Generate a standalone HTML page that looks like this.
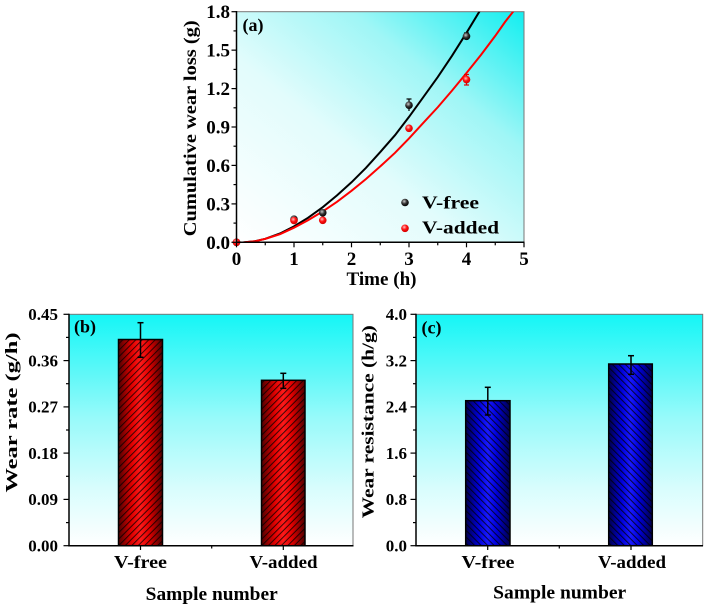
<!DOCTYPE html>
<html><head><meta charset="utf-8"><style>
html,body{margin:0;padding:0;background:#fff;}
svg{display:block;}
text{font-family:"Liberation Serif","Times New Roman",serif;font-weight:bold;fill:#000;}
</style></head><body>
<svg width="708" height="609" viewBox="0 0 708 609" xmlns="http://www.w3.org/2000/svg">
<defs>
<linearGradient id="bgA" x1="0" y1="1" x2="1" y2="0">
<stop offset="0" stop-color="#ffffff"/>
<stop offset="0.4" stop-color="#e2fcfc"/>
<stop offset="0.7" stop-color="#9ff6f6"/>
<stop offset="1" stop-color="#12eef0"/>
</linearGradient>
<linearGradient id="bgB" x1="0" y1="0" x2="0" y2="1">
<stop offset="0" stop-color="#14f6f6"/>
<stop offset="0.45" stop-color="#98fafa"/>
<stop offset="0.75" stop-color="#d8fdfd"/>
<stop offset="1" stop-color="#ffffff"/>
</linearGradient>
<linearGradient id="redG" x1="0" y1="0" x2="1" y2="0">
<stop offset="0" stop-color="#500000"/>
<stop offset="0.3" stop-color="#e00000"/>
<stop offset="0.5" stop-color="#ff1a1a"/>
<stop offset="0.7" stop-color="#e00000"/>
<stop offset="1" stop-color="#500000"/>
</linearGradient>
<linearGradient id="blueG" x1="0" y1="0" x2="1" y2="0">
<stop offset="0" stop-color="#00004a"/>
<stop offset="0.3" stop-color="#0000d8"/>
<stop offset="0.5" stop-color="#1a1aff"/>
<stop offset="0.7" stop-color="#0000d8"/>
<stop offset="1" stop-color="#00004a"/>
</linearGradient>
<pattern id="hatchR" width="4.6" height="10" patternUnits="userSpaceOnUse" patternTransform="rotate(45)">
<line x1="0.5" y1="0" x2="0.5" y2="10" stroke="#000" stroke-width="1" stroke-opacity="0.75"/>
</pattern>
<pattern id="hatchB" width="4.6" height="10" patternUnits="userSpaceOnUse" patternTransform="rotate(-45)">
<line x1="0.5" y1="0" x2="0.5" y2="10" stroke="#000" stroke-width="1" stroke-opacity="0.75"/>
</pattern>
<radialGradient id="dotK" cx="0.4" cy="0.35" r="0.65">
<stop offset="0" stop-color="#c8c8c8"/>
<stop offset="0.5" stop-color="#333"/>
<stop offset="1" stop-color="#000"/>
</radialGradient>
<radialGradient id="dotR" cx="0.4" cy="0.35" r="0.65">
<stop offset="0" stop-color="#ffc0c0"/>
<stop offset="0.5" stop-color="#ff1010"/>
<stop offset="1" stop-color="#d00000"/>
</radialGradient>
<clipPath id="clipA"><rect x="236.5" y="11.7" width="287.5" height="230.6"/></clipPath>
</defs>

<!-- ============ Panel (a) ============ -->
<rect x="236.5" y="11.7" width="287.5" height="230.6" fill="url(#bgA)" stroke="#777" stroke-width="1"/>
<g clip-path="url(#clipA)" fill="none" stroke-width="2">
<polyline stroke="#000" points="241,242.8 245.1,242.3 255,241.2 265.25,238.8 280,233.5 294,226.4 308,217.8 322.75,207.2 337,195.4 351.5,182.3 366,167.8 380.25,152.05 395,135.2 409,116.9 423,97.6 437.75,77.05 452,55.8 466.5,32.8 479.3,11.7 482,7"/>
<polyline stroke="#ff0000" points="241,242.8 245.1,242.3 255,241.3 265.25,238.85 280,234.2 294,227.7 308,220.2 322.75,211.4 337,201.8 351.5,190.8 366,179.0 380.25,166.4 395,152.8 409,138.4 423,123.2 437.75,107.25 452,90.6 466.5,73.0 481,54.9 495.25,35.9 505,22 513.1,11.7 516,7"/>
</g>
<!-- error bars on points -->
<g stroke="#000" stroke-width="1.2">
<line x1="409" y1="99" x2="409" y2="111"/><line x1="406.5" y1="99" x2="411.5" y2="99"/>
<line x1="466.5" y1="33" x2="466.5" y2="40"/><line x1="464" y1="33" x2="469" y2="33"/>
</g>
<g stroke="#e00000" stroke-width="1.2">
<line x1="466.5" y1="74.5" x2="466.5" y2="85"/><line x1="464" y1="74.5" x2="469" y2="74.5"/><line x1="464" y1="85" x2="469" y2="85"/>
<line x1="409" y1="124.5" x2="409" y2="132"/>
</g>
<!-- points -->
<g>
<circle cx="236.5" cy="242.3" r="3.8" fill="url(#dotK)"/>
<circle cx="294" cy="219.2" r="3.8" fill="url(#dotK)"/>
<circle cx="322.75" cy="212.8" r="3.8" fill="url(#dotK)"/>
<circle cx="409" cy="105.2" r="3.8" fill="url(#dotK)"/>
<circle cx="466.5" cy="36.3" r="3.8" fill="url(#dotK)"/>
<circle cx="236.5" cy="242.3" r="3.8" fill="url(#dotR)"/>
<circle cx="294" cy="220.5" r="3.8" fill="url(#dotR)"/>
<circle cx="322.75" cy="220.3" r="3.8" fill="url(#dotR)"/>
<circle cx="409" cy="128.3" r="3.8" fill="url(#dotR)"/>
<circle cx="466.5" cy="79.6" r="3.8" fill="url(#dotR)"/>
</g>
<!-- axes a -->
<g stroke="#000" stroke-width="1.5">
<line x1="236.5" y1="11" x2="236.5" y2="243"/>
<line x1="235.8" y1="242.3" x2="524.5" y2="242.3"/>
</g>
<g stroke="#000" stroke-width="1.2">
<line x1="231.5" y1="242.3" x2="236.5" y2="242.3"/><line x1="231.5" y1="203.9" x2="236.5" y2="203.9"/><line x1="231.5" y1="165.4" x2="236.5" y2="165.4"/><line x1="231.5" y1="127" x2="236.5" y2="127"/><line x1="231.5" y1="88.6" x2="236.5" y2="88.6"/><line x1="231.5" y1="50.15" x2="236.5" y2="50.15"/><line x1="231.5" y1="11.7" x2="236.5" y2="11.7"/>
<line x1="233.5" y1="223.1" x2="236.5" y2="223.1"/><line x1="233.5" y1="184.6" x2="236.5" y2="184.6"/><line x1="233.5" y1="146.2" x2="236.5" y2="146.2"/><line x1="233.5" y1="107.8" x2="236.5" y2="107.8"/><line x1="233.5" y1="69.4" x2="236.5" y2="69.4"/><line x1="233.5" y1="30.9" x2="236.5" y2="30.9"/>
<line x1="236.5" y1="242.3" x2="236.5" y2="247.3"/><line x1="294" y1="242.3" x2="294" y2="247.3"/><line x1="351.5" y1="242.3" x2="351.5" y2="247.3"/><line x1="409" y1="242.3" x2="409" y2="247.3"/><line x1="466.5" y1="242.3" x2="466.5" y2="247.3"/><line x1="524" y1="242.3" x2="524" y2="247.3"/>
<line x1="265.25" y1="242.3" x2="265.25" y2="245.3"/><line x1="322.75" y1="242.3" x2="322.75" y2="245.3"/><line x1="380.25" y1="242.3" x2="380.25" y2="245.3"/><line x1="437.75" y1="242.3" x2="437.75" y2="245.3"/><line x1="495.25" y1="242.3" x2="495.25" y2="245.3"/>
</g>
<g font-size="19" text-anchor="end">
<text x="230" y="248.8">0.0</text>
<text x="230" y="210.4">0.3</text>
<text x="230" y="171.9">0.6</text>
<text x="230" y="133.5">0.9</text>
<text x="230" y="95.1">1.2</text>
<text x="230" y="56.6">1.5</text>
<text x="230" y="18.2">1.8</text>
</g>
<g font-size="19" text-anchor="middle">
<text x="236.5" y="265">0</text>
<text x="294" y="265">1</text>
<text x="351.5" y="265">2</text>
<text x="409" y="265">3</text>
<text x="466.5" y="265">4</text>
<text x="524" y="265">5</text>
</g>
<text x="381.5" y="285" font-size="19" text-anchor="middle" textLength="70" lengthAdjust="spacingAndGlyphs">Time (h)</text>
<text transform="translate(196,128.3) rotate(-90)" font-size="18" text-anchor="middle" textLength="216" lengthAdjust="spacingAndGlyphs">Cumulative wear loss (g)</text>
<text x="242.5" y="31" font-size="18">(a)</text>
<!-- legend -->
<circle cx="405" cy="202.5" r="3.8" fill="url(#dotK)"/>
<circle cx="405" cy="228.3" r="3.8" fill="url(#dotR)"/>
<text x="422" y="208.3" font-size="18" textLength="57" lengthAdjust="spacingAndGlyphs">V-free</text>
<text x="422" y="233.3" font-size="18" textLength="77" lengthAdjust="spacingAndGlyphs">V-added</text>

<!-- ============ Panel (b) ============ -->
<rect x="69" y="314.3" width="284" height="231.4" fill="url(#bgB)" stroke="#777" stroke-width="1"/>
<rect x="118.5" y="339.5" width="44" height="206.2" fill="url(#redG)"/>
<rect x="118.5" y="339.5" width="44" height="206.2" fill="url(#hatchR)"/>
<rect x="118.5" y="339.5" width="44" height="206.2" fill="none" stroke="#000" stroke-width="1.5"/>
<rect x="261.5" y="380.3" width="43.5" height="165.4" fill="url(#redG)"/>
<rect x="261.5" y="380.3" width="43.5" height="165.4" fill="url(#hatchR)"/>
<rect x="261.5" y="380.3" width="43.5" height="165.4" fill="none" stroke="#000" stroke-width="1.5"/>
<g stroke="#000" stroke-width="1.5">
<line x1="140.5" y1="322.7" x2="140.5" y2="357.3"/><line x1="137.5" y1="322.7" x2="143.5" y2="322.7"/><line x1="137.5" y1="357.3" x2="143.5" y2="357.3"/>
<line x1="283.3" y1="373.3" x2="283.3" y2="388.3"/><line x1="280.3" y1="373.3" x2="286.3" y2="373.3"/><line x1="280.3" y1="388.3" x2="286.3" y2="388.3"/>
</g>
<g stroke="#000" stroke-width="1.5">
<line x1="69" y1="313.8" x2="69" y2="546.4"/>
<line x1="68.3" y1="545.7" x2="353.5" y2="545.7"/>
</g>
<g stroke="#000" stroke-width="1.2">
<line x1="63.5" y1="545.7" x2="69" y2="545.7"/><line x1="63.5" y1="499.4" x2="69" y2="499.4"/><line x1="63.5" y1="453.1" x2="69" y2="453.1"/><line x1="63.5" y1="406.9" x2="69" y2="406.9"/><line x1="63.5" y1="360.6" x2="69" y2="360.6"/><line x1="63.5" y1="314.3" x2="69" y2="314.3"/>
<line x1="66" y1="522.6" x2="69" y2="522.6"/><line x1="66" y1="476.3" x2="69" y2="476.3"/><line x1="66" y1="430" x2="69" y2="430"/><line x1="66" y1="383.7" x2="69" y2="383.7"/><line x1="66" y1="337.4" x2="69" y2="337.4"/>
<line x1="140.5" y1="545.7" x2="140.5" y2="550"/><line x1="283.3" y1="545.7" x2="283.3" y2="550"/><line x1="211.7" y1="545.7" x2="211.7" y2="548.5"/>
</g>
<g font-size="17" text-anchor="end">
<text x="58" y="551.5">0.00</text>
<text x="58" y="505.2">0.09</text>
<text x="58" y="458.9">0.18</text>
<text x="58" y="412.7">0.27</text>
<text x="58" y="366.4">0.36</text>
<text x="58" y="320.1">0.45</text>
</g>
<text x="140.5" y="568" font-size="17.5" text-anchor="middle" textLength="53" lengthAdjust="spacingAndGlyphs">V-free</text>
<text x="283.5" y="568" font-size="17.5" text-anchor="middle" textLength="68" lengthAdjust="spacingAndGlyphs">V-added</text>
<text x="211.7" y="600" font-size="19" text-anchor="middle" textLength="132" lengthAdjust="spacingAndGlyphs">Sample number</text>
<text transform="translate(17,412.5) rotate(-90)" font-size="16.5" text-anchor="middle" textLength="160" lengthAdjust="spacingAndGlyphs">Wear rate (g/h)</text>
<text x="74" y="332.5" font-size="18">(b)</text>

<!-- ============ Panel (c) ============ -->
<rect x="416" y="314.3" width="286.7" height="231.4" fill="url(#bgB)" stroke="#777" stroke-width="1"/>
<rect x="465.7" y="400.7" width="44.3" height="145" fill="url(#blueG)"/>
<rect x="465.7" y="400.7" width="44.3" height="145" fill="url(#hatchB)"/>
<rect x="465.7" y="400.7" width="44.3" height="145" fill="none" stroke="#000" stroke-width="1.5"/>
<rect x="608.7" y="364" width="43.6" height="181.7" fill="url(#blueG)"/>
<rect x="608.7" y="364" width="43.6" height="181.7" fill="url(#hatchB)"/>
<rect x="608.7" y="364" width="43.6" height="181.7" fill="none" stroke="#000" stroke-width="1.5"/>
<g stroke="#000" stroke-width="1.5">
<line x1="487.8" y1="387.3" x2="487.8" y2="415"/><line x1="484.8" y1="387.3" x2="490.8" y2="387.3"/><line x1="484.8" y1="415" x2="490.8" y2="415"/>
<line x1="631" y1="355.7" x2="631" y2="374.3"/><line x1="628" y1="355.7" x2="634" y2="355.7"/><line x1="628" y1="374.3" x2="634" y2="374.3"/>
</g>
<g stroke="#000" stroke-width="1.5">
<line x1="416" y1="313.8" x2="416" y2="546.4"/>
<line x1="415.3" y1="545.7" x2="703" y2="545.7"/>
</g>
<g stroke="#000" stroke-width="1.2">
<line x1="410.5" y1="545.7" x2="416" y2="545.7"/><line x1="410.5" y1="499.4" x2="416" y2="499.4"/><line x1="410.5" y1="453.1" x2="416" y2="453.1"/><line x1="410.5" y1="406.9" x2="416" y2="406.9"/><line x1="410.5" y1="360.6" x2="416" y2="360.6"/><line x1="410.5" y1="314.3" x2="416" y2="314.3"/>
<line x1="413" y1="522.6" x2="416" y2="522.6"/><line x1="413" y1="476.3" x2="416" y2="476.3"/><line x1="413" y1="430" x2="416" y2="430"/><line x1="413" y1="383.7" x2="416" y2="383.7"/><line x1="413" y1="337.4" x2="416" y2="337.4"/>
<line x1="487.7" y1="545.7" x2="487.7" y2="550"/><line x1="631" y1="545.7" x2="631" y2="550"/><line x1="559.3" y1="545.7" x2="559.3" y2="548.5"/>
</g>
<g font-size="17" text-anchor="end">
<text x="407" y="551.5">0.0</text>
<text x="407" y="505.2">0.8</text>
<text x="407" y="458.9">1.6</text>
<text x="407" y="412.7">2.4</text>
<text x="407" y="366.4">3.2</text>
<text x="407" y="320.1">4.0</text>
</g>
<text x="488" y="568" font-size="17.5" text-anchor="middle" textLength="53" lengthAdjust="spacingAndGlyphs">V-free</text>
<text x="632" y="568" font-size="17.5" text-anchor="middle" textLength="68" lengthAdjust="spacingAndGlyphs">V-added</text>
<text x="559.7" y="598.5" font-size="19" text-anchor="middle" textLength="133" lengthAdjust="spacingAndGlyphs">Sample number</text>
<text transform="translate(373.5,421.7) rotate(-90)" font-size="16.5" text-anchor="middle" textLength="193" lengthAdjust="spacingAndGlyphs">Wear resistance (h/g)</text>
<text x="421.5" y="333.5" font-size="18">(c)</text>
</svg>
</body></html>
